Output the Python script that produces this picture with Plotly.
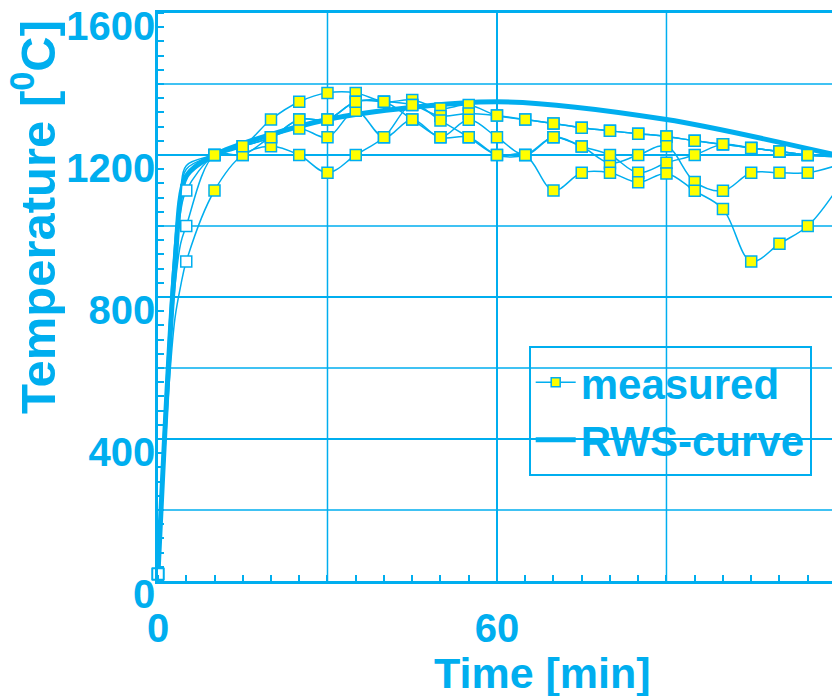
import plotly.graph_objects as go

# ---------------- data ----------------
times = [0, 1, 2, 3, 4, 5, 10, 15, 20, 25, 30, 35, 40, 45, 50, 55, 60,
         65, 70, 75, 80, 85, 90, 95, 100, 105, 110, 115, 120]

meas_a = [20, 420, 720, 960, 1100, 1170, 1200, 1225, 1300, 1350, 1375, 1375, 1350, 1355, 1331, 1341, 1311,
          1300, 1289, 1277, 1268, 1260, 1252, 1240, 1230, 1220, 1210, 1200, 1195]
meas_b = [20, 380, 680, 900, 1040, 1100, 1200, 1225, 1250, 1300, 1300, 1350, 1350, 1341, 1310, 1317, 1311,
          1300, 1289, 1277, 1268, 1260, 1252, 1240, 1230, 1220, 1210, 1200, 1195]
meas_c = [20, 340, 620, 830, 950, 1000, 1200, 1200, 1250, 1275, 1250, 1325, 1250, 1300, 1250, 1299, 1250,
          1200, 1250, 1224, 1177, 1200, 1225, 1124, 1099, 1150, 1150, 1150, 1170]
meas_d = [20, 300, 560, 740, 830, 900, 1100, 1200, 1225, 1200, 1150, 1200, 1250, 1341, 1297, 1250, 1200,
          1200, 1250, 1224, 1200, 1150, 1178, 1200, 1230, 1220, 1210, 1200, 1195]
meas_e = [20, 400, 700, 930, 1080, 1160, 1200, 1225, 1250, 1300, 1300, 1350, 1350, 1300, 1250, 1250, 1200,
          1200, 1100, 1150, 1150, 1123, 1148, 1099, 1048, 900, 950, 1000, 1100]
measured = [meas_a, meas_b, meas_c, meas_d, meas_e]
# whether a marker is shown at t = 5 min (open marker) for each series
open_marker_at_5 = [False, True, True, True, False]

rws_time = [0, 3, 5, 10, 30, 60, 90, 120]
rws_temp = [20, 890, 1140, 1200, 1300, 1350, 1300, 1200]

x_ticks = [0, 60]
x_ticktext = ["0", "60"]
x_extra_grid = [30, 90]
y_ticks = [0, 400, 800, 1200, 1600]
y_ticktext = ["0", "400", "800", "1200", "1600"]
y_extra_grid = [200, 600, 1000, 1400]

# ---------------- style ----------------
BLUE = "#00AEEF"
YELLOW = "#FFFF00"
FONT = "Liberation Sans, Arial, sans-serif"
GRID_W = 1.5

fig = go.Figure()

fig.add_trace(go.Scatter(
    x=rws_time, y=rws_temp, mode="lines", name="RWS-curve",
    line=dict(color=BLUE, width=5, shape="spline", smoothing=0.8),
    legendrank=2, showlegend=True,
))

for i, series in enumerate(measured):
    sizes, colors = [], []
    for t in times:
        if 0 < t < 5:
            sizes.append(0)
            colors.append("white")
        elif t == 5:
            sizes.append(11 if open_marker_at_5[i] else 0)
            colors.append("white")
        elif t == 0:
            sizes.append(11)
            colors.append("white")
        else:
            sizes.append(11)
            colors.append(YELLOW)
    fig.add_trace(go.Scatter(
        x=times, y=series, mode="lines+markers", showlegend=False,
        line=dict(color=BLUE, width=1.5, shape="spline", smoothing=1.0),
        marker=dict(symbol="square", size=sizes, color=colors, opacity=1,
                    line=dict(color=BLUE, width=1.5)),
        cliponaxis=False,
    ))

# legend entry for measured
fig.add_trace(go.Scatter(
    x=[None], y=[None], mode="lines+markers", name="measured",
    line=dict(color=BLUE, width=1.5),
    marker=dict(symbol="square", size=9, color=YELLOW, line=dict(color=BLUE, width=1.5)),
    legendrank=1,
))

shapes = []
for xv in x_extra_grid:
    shapes.append(dict(type="line", xref="x", yref="paper", x0=xv, x1=xv, y0=0, y1=1,
                       line=dict(color=BLUE, width=GRID_W), layer="below"))
for yv in y_extra_grid:
    shapes.append(dict(type="line", xref="paper", yref="y", x0=0, x1=1, y0=yv, y1=yv,
                       line=dict(color=BLUE, width=GRID_W), layer="below"))

fig.update_layout(
    width=832, height=696,
    margin=dict(l=158, r=0, t=13, b=115),
    paper_bgcolor="white", plot_bgcolor="white",
    font=dict(family=FONT, color=BLUE, size=40, weight="bold"),
    showlegend=True,
    shapes=shapes,
    legend=dict(
        x=0.55, y=0.413, xanchor="left", yanchor="top",
        bgcolor="rgba(0,0,0,0)", bordercolor=BLUE, borderwidth=2,
        font=dict(family=FONT, size=42, color=BLUE, weight="bold"),
        itemwidth=40, tracegroupgap=0,
    ),
    xaxis=dict(
        range=[0, 119.3], tickvals=x_ticks, ticktext=x_ticktext,
        showgrid=True, gridcolor=BLUE, gridwidth=GRID_W,
        showline=True, linecolor=BLUE, linewidth=2.5, mirror=True,
        ticks="", zeroline=False, ticklabelstandoff=10,
        tickfont=dict(family=FONT, size=40, color=BLUE, weight="bold"),
        minor=dict(dtick=5, tick0=0, ticks="inside", ticklen=6, tickcolor=BLUE, tickwidth=1.5, showgrid=False),
    ),
    yaxis=dict(
        range=[0, 1600], tickvals=y_ticks, ticktext=y_ticktext,
        showgrid=True, gridcolor=BLUE, gridwidth=GRID_W,
        showline=True, linecolor=BLUE, linewidth=2.5, mirror=False,
        ticks="", zeroline=False, ticklabelshift=13, ticklabelstandoff=-8,
        ticklabeloverflow="allow",
        tickfont=dict(family=FONT, size=40, color=BLUE, weight="bold"),
        minor=dict(dtick=40, tick0=0, ticks="inside", ticklen=6, tickcolor=BLUE, tickwidth=1.5, showgrid=False),
    ),
    annotations=[
        dict(text="Time [min]", xref="paper", yref="paper", x=0.571, y=-0.162,
             xanchor="center", yanchor="middle", showarrow=False,
             font=dict(family=FONT, size=43, color=BLUE, weight="bold")),
        dict(text="Temperature [<sup>0</sup>C]", xref="paper", yref="paper", x=-0.184, y=0.641,
             xanchor="center", yanchor="middle", textangle=-90, showarrow=False,
             font=dict(family=FONT, size=49, color=BLUE, weight="bold")),
    ],
)

fig.write_html("out.html")
